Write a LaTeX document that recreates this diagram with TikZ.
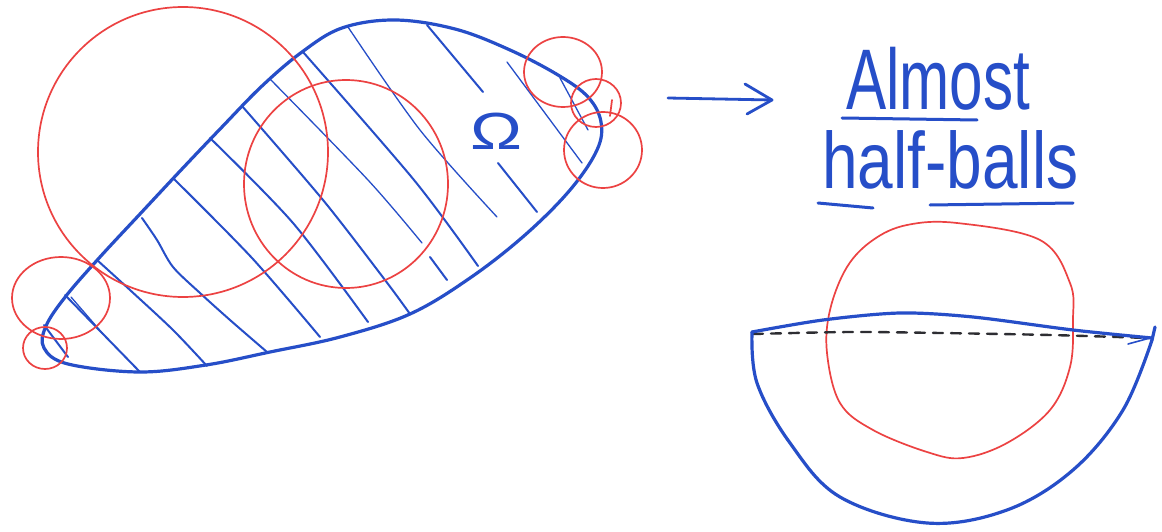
\documentclass[tikz,border=0pt]{standalone}
\usepackage{fontspec}
\setmainfont{Liberation Sans}
\definecolor{pen}{RGB}{38,78,200}
\definecolor{redpen}{RGB}{236,66,66}
\definecolor{graypen}{RGB}{45,45,50}
\begin{document}
\begin{tikzpicture}[x=1pt,y=-1pt,line cap=round,line join=round,
  bnd/.style={pen,line width=3.2pt},
  hatch/.style={pen,line width=2pt},
  thinhatch/.style={pen,line width=1.3pt},
  ball/.style={redpen,line width=1.7pt},
  dashline/.style={graypen,line width=2.4pt,dash pattern=on 10pt off 8pt},
  uline/.style={pen,line width=3pt},
  hand/.style={pen,inner sep=0pt,anchor=base west}]
\useasboundingbox (0,0) rectangle (1162,532);
\fill[white] (0,0) rectangle (1162,532);

% ---------- domain Omega ----------
\draw[bnd] plot[smooth cycle,tension=0.6] coordinates {
 (139,372) (206,365) (270,352) (340,337) (410,314) (470,278) (525,235)
 (570,190) (597,150) (601,122) (588,97) (558,75) (510,50) (455,29)
 (395,20) (342,28) (302,52) (262,86) (222,127) (182,169) (140,214)
 (100,257) (66,296) (46,326) (44,348) (68,364)};

% hatching
\draw[hatch] (44,325) -- (68,357);
\draw[hatch] (65,295) -- (140,372);
\draw[thinhatch] (71,297) -- (103,334);
\draw[hatch] plot[smooth] coordinates {(97,260) (130,290) (173,330) (207,366)};
\draw[hatch] plot[smooth] coordinates {(142,218) (157,240) (173,267) (200,293) (230,320) (267,352)};
\draw[hatch] plot[smooth] coordinates {(173,178) (252,258) (320,337)};
\draw[hatch] plot[smooth] coordinates {(210,138) (293,223) (368,322)};
\draw[hatch] plot[smooth] coordinates {(242,106) (323,200) (385,280) (410,314)};
\draw[thinhatch] plot[smooth] coordinates {(270,79) (368,180) (422,243)};
\draw[hatch] plot[smooth] coordinates {(303,52) (414,180) (478,266)};
\draw[thinhatch] plot[smooth] coordinates {(348,27) (420,130) (497,217)};
\draw[hatch] (427,25) -- (483,92);
\draw[thinhatch] (507,62) -- (582,163);
\draw[thinhatch] (560,78) -- (588,130);
\draw[hatch] (498,163) -- (537,212);
\draw[hatch] (430,257) -- (447,280);

\node[pen,inner sep=0pt] (omega) at (497,131) {\fontsize{58}{58}\selectfont\scalebox{1.2}[0.9]{Ω}};

% ---------- red balls ----------
\draw[ball] (183,152) circle[radius=145pt];
\draw[ball] (346,184) ellipse[x radius=102pt,y radius=104pt];
\draw[ball] (61,298) ellipse[x radius=49pt,y radius=41pt];
\draw[ball] (45,348) ellipse[x radius=22pt,y radius=21pt];
\draw[ball] (563,72) ellipse[x radius=39pt,y radius=35pt];
\draw[ball] (596,103) ellipse[x radius=25pt,y radius=24pt];
\draw[ball] (603,150) ellipse[x radius=39pt,y radius=38pt];
\draw[ball] (612,100) -- (610,116);

% ---------- arrow ----------
\coordinate (arrS) at (668,98);
\coordinate (arrE) at (772,100);
\draw[pen,line width=2.8pt] (arrS) -- (arrE);
\draw[pen,line width=2.8pt] (745,84) -- (arrE) -- (747,114);

% ---------- text ----------
\node[hand] (almost) at (846,110) {\fontsize{86}{86}\selectfont\scalebox{0.7}[1]{Almost}};
\node[hand] (halfballs) at (822,188) {\fontsize{80}{80}\selectfont\scalebox{0.8}[1]{half-balls}};
\draw[uline] (842,118) -- (977,120);
\draw[uline] (818,203) -- (873,208);
\draw[uline] (930,205) -- (1073,203);

% ---------- half ball ----------
\draw[ball] plot[smooth cycle,tension=0.6] coordinates {
 (957,223) (1040,240) (1070,283) (1073,320) (1070,367) (1050,410) (1007,443)
 (963,458) (927,452) (873,430) (840,403) (827,353) (830,310) (847,267)
 (873,240) (907,225)};
\draw[dashline] plot[smooth] coordinates {(753,334) (850,332) (940,333) (1050,335) (1148,338)};
\draw[pen,line width=1.6pt] (1128,344) -- (1150,338);
\draw[bnd] plot[smooth] coordinates {(752,332) (823,320) (900,313) (973,317) (1073,330) (1152,338)};
\draw[bnd] plot[smooth,tension=0.6] coordinates {(752,332) (757,383) (790,443) (840,497) (927,523) (1007,510) (1073,470) (1123,410) (1152,340)};
\draw[bnd] (1152,340) -- (1155,327);
\end{tikzpicture}
\end{document}
